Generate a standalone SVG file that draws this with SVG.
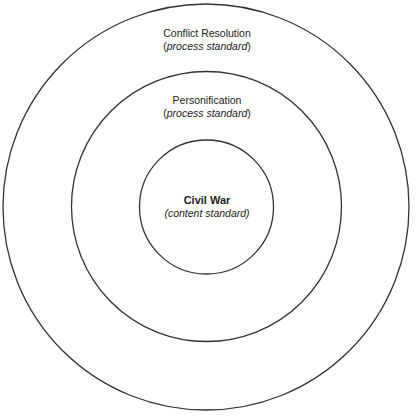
<svg xmlns="http://www.w3.org/2000/svg" width="418" height="417" viewBox="0 0 418 417">
<style>
.ring{fill:none;stroke:#333;stroke-width:1.3}
.t{font-family:"Liberation Sans",Arial,sans-serif;font-size:10.5px;fill:#222;text-anchor:middle}
.i{font-style:italic}
.b{font-weight:bold;font-size:11px}
</style>
<rect width="418" height="417" fill="#fff"/>
<g id="outer">
<circle class="ring" cx="206" cy="207" r="203"/>
<text class="t" x="207" y="37">Conflict Resolution</text>
<text class="t" x="207" y="50">(<tspan class="i">process standard</tspan>)</text>
</g>
<g id="middle">
<circle class="ring" cx="206.5" cy="206.5" r="135"/>
<text class="t" x="207" y="104">Personification</text>
<text class="t" x="207" y="117">(<tspan class="i">process standard</tspan>)</text>
</g>
<g id="inner">
<circle class="ring" cx="206.5" cy="207" r="67"/>
<text class="t b" x="207" y="204">Civil War</text>
<text class="t i" x="207" y="217">(content standard)</text>
</g>
</svg>
